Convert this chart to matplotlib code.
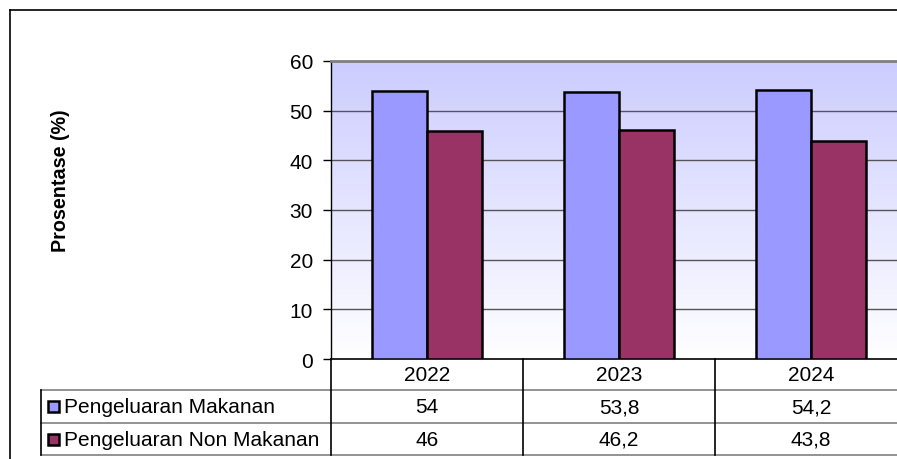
import matplotlib.pyplot as plt
import numpy as np
from matplotlib.patches import Rectangle
from matplotlib.lines import Line2D

plt.rcParams["font.family"] = ["Liberation Sans", "DejaVu Sans"]

years = ["2022", "2023", "2024"]
makanan = [54, 53.8, 54.2]
non_makanan = [46, 46.2, 43.8]
series_names = ["Pengeluaran Makanan", "Pengeluaran Non Makanan"]
colours = ["#9999FF", "#993366"]
yticks = [0, 10, 20, 30, 40, 50, 60]

W, H = 897, 460
FS = 15
fig = plt.figure(figsize=(W / 100, H / 100), dpi=100)

# outer chart border (only top and left visible in the crop)
fig.add_artist(Line2D([10 / W, 10 / W], [0, 1 - 11 / H], color="black", lw=1.2))
fig.add_artist(Line2D([10 / W, 1], [1 - 11 / H, 1 - 11 / H], color="black", lw=1.2))

# plot area in pixels: left 331, right 907 (beyond picture), top 62, bottom 360
ax = fig.add_axes([331 / W, 1 - 360 / H, (907 - 331) / W, (360 - 62) / H])
ax.set_xlim(-0.5, len(years) - 0.5)
ax.set_ylim(0, 60)

# gradient background
grad = np.linspace(0, 1, 256).reshape(-1, 1)
top = np.array([0xCC, 0xCC, 0xFF]) / 255
bottom = np.array([1.0, 1.0, 1.0])
img = bottom + (top - bottom) * grad
ax.imshow(img[:, None, :].repeat(2, axis=1), extent=[-0.5, len(years) - 0.5, 0, 60],
          origin="lower", aspect="auto", zorder=0)

for y in yticks[1:]:
    ax.axhline(y, color="#555555", lw=1, zorder=1)

x = np.arange(len(years))
bw = 55 / 192
ax.bar(x - bw / 2, makanan, bw, color=colours[0], edgecolor="black", lw=1.8, zorder=3)
ax.bar(x + bw / 2, non_makanan, bw, color=colours[1], edgecolor="black", lw=1.8, zorder=3)

ax.set_yticks(yticks)
ax.set_yticklabels([str(t) for t in yticks], fontsize=FS)
ax.tick_params(axis="y", length=5.5, width=1, pad=7.5)
ax.set_xticks([])
for s in ["top", "right"]:
    ax.spines[s].set_color("#808080")
    ax.spines[s].set_linewidth(2)
ax.spines["left"].set_color("black")
ax.spines["bottom"].set_color("black")
ax.spines["left"].set_linewidth(1)
ax.spines["bottom"].set_linewidth(1.2)

fig.text(61 / W, 1 - 181 / H, "Prosentase (%)", rotation=90, fontsize=14.2,
         fontweight="bold", ha="center", va="center")

# data table below the axes
tr = ax.get_xaxis_transform()
ph = 360 - 62
r1 = -31 / ph
r2 = -64 / ph
r3 = -96 / ph
xl = -0.5 - (331 - 41) / 192
xr = len(years) - 0.5

for yy in [r1, r2, r3]:
    ax.add_line(Line2D([xl, xr], [yy, yy], transform=tr,
                       color="#808080", lw=1.2, clip_on=False))
ax.add_line(Line2D([xl, xl], [r1, r3], transform=tr, color="black", lw=1.2, clip_on=False))
for i in range(len(years)):
    ax.add_line(Line2D([i - 0.5, i - 0.5], [0, r3], transform=tr, color="black", lw=1.2,
                       clip_on=False))

for i, yr in enumerate(years):
    ax.text(i, r1 / 2, yr, transform=tr, ha="center", va="center", fontsize=FS)
    ax.text(i, (r1 + r2) / 2, f"{makanan[i]:g}".replace(".", ","), transform=tr,
            ha="center", va="center", fontsize=FS)
    ax.text(i, (r2 + r3) / 2, f"{non_makanan[i]:g}".replace(".", ","), transform=tr,
            ha="center", va="center", fontsize=FS)

for k, (name, c) in enumerate(zip(series_names, colours)):
    yc = (r1 + r2) / 2 if k == 0 else (r2 + r3) / 2
    ax.add_patch(Rectangle((xl + 7 / 192, yc - 5.5 / ph), 11 / 192, 11 / ph, transform=tr,
                           facecolor=c, edgecolor="black", lw=1.8, clip_on=False))
    ax.text(xl + 23 / 192, yc, name, transform=tr, ha="left", va="center", fontsize=FS)

plt.savefig("out.png", dpi=100)
